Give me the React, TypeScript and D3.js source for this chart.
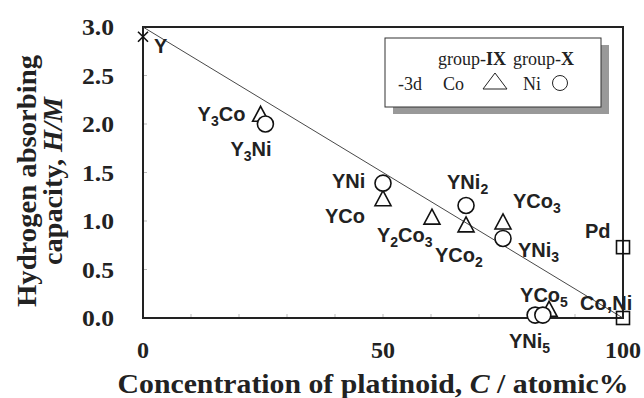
import React from "react";
import * as d3 from "d3";

// ---- data ----
const coNames = ["Y3Co", "YCo", "Y2Co3", "YCo2", "YCo3", "YCo5"];
const coX = [24.5, 50, 60.2, 67.3, 75, 84.6];
const coY = [2.1, 1.23, 1.04, 0.96, 0.99, 0.09];

const niNames = ["Y3Ni", "YNi", "YNi2", "YNi3", "YNi5", "YNi5b"];
const niX = [25.5, 50, 67.3, 75, 81.7, 83.3];
const niY = [2.0, 1.39, 1.16, 0.82, 0.03, 0.03];

const sqNames = ["Pd", "Co,Ni"];
const sqX = [100, 100];
const sqY = [0.73, 0.0];

const yElemX = [0];
const yElemY = [2.9];

const lineX = [0, 100];
const lineY = [3.0, 0.0];

const xTickLabels = [0, 50, 100];
const yTickLabels = [0, 0.5, 1.0, 1.5, 2.0, 2.5, 3.0];

// label annotations anchored to points, with pixel offsets
type Lab = { parts: { t: string; sub?: boolean }[]; x: number; y: number; dx: number; dy: number };
const labels: Lab[] = [
  { parts: [{ t: "Y" }], x: 0, y: 2.9, dx: 11, dy: 16 },
  { parts: [{ t: "Y" }, { t: "3", sub: true }, { t: "Co" }], x: 24.5, y: 2.1, dx: -63, dy: 7 },
  { parts: [{ t: "Y" }, { t: "3", sub: true }, { t: "Ni" }], x: 25.5, y: 2.0, dx: -35, dy: 32 },
  { parts: [{ t: "YNi" }], x: 50, y: 1.39, dx: -51, dy: 5 },
  { parts: [{ t: "YCo" }], x: 50, y: 1.23, dx: -58, dy: 24 },
  { parts: [{ t: "Y" }, { t: "2", sub: true }, { t: "Co" }, { t: "3", sub: true }], x: 60.2, y: 1.04, dx: -55, dy: 25 },
  { parts: [{ t: "YNi" }, { t: "2", sub: true }], x: 67.3, y: 1.16, dx: -19, dy: -16 },
  { parts: [{ t: "YCo" }, { t: "2", sub: true }], x: 67.3, y: 0.96, dx: -31, dy: 37 },
  { parts: [{ t: "YCo" }, { t: "3", sub: true }], x: 75, y: 0.99, dx: 10, dy: -14 },
  { parts: [{ t: "YNi" }, { t: "3", sub: true }], x: 75, y: 0.82, dx: 15, dy: 19 },
  { parts: [{ t: "YCo" }, { t: "5", sub: true }], x: 84.6, y: 0.09, dx: -29, dy: -7 },
  { parts: [{ t: "YNi" }, { t: "5", sub: true }], x: 82.5, y: 0.03, dx: -30, dy: 33 },
  { parts: [{ t: "Pd" }], x: 100, y: 0.73, dx: -38, dy: -9 },
  { parts: [{ t: "Co,Ni" }], x: 100, y: 0.0, dx: -43, dy: -8 },
];

const W = 644;
const H = 398;
const M = { left: 143, right: 21, top: 27, bottom: 80 };

const x = d3.scaleLinear().domain([0, 100]).range([M.left, W - M.right]);
const y = d3.scaleLinear().domain([0, 3.0]).range([H - M.bottom, M.top]);

const triPath = (cx: number, cy: number) => {
  const w = 8, hh = 7;
  return `M${cx},${cy - hh - 1}L${cx + w},${cy + hh}L${cx - w},${cy + hh}Z`;
};

export default function App() {
  const line = d3
    .line<number>()
    .x((_, i) => x(lineX[i]))
    .y((_, i) => y(lineY[i]));
  const serif = "'Liberation Serif', 'Times New Roman', serif";
  const sans = "'Liberation Sans', Arial, sans-serif";
  const xMinor = d3.range(0, 101, 10);
  const yMinor = d3.range(0, 3.01, 0.5);
  return (
    <svg width={W} height={H} style={{ position: "absolute", left: 0, top: 0, background: "#fff" }}>
      {/* minor ticks */}
      {xMinor.map((t) => (
        <line key={"xt" + t} x1={x(t)} x2={x(t)} y1={y(0)} y2={y(0) - 4} stroke="#bbb" strokeWidth={1} />
      ))}
      {yMinor.map((t) => (
        <line key={"yt" + t} x1={x(0)} x2={x(0) + 4} y1={y(t)} y2={y(t)} stroke="#bbb" strokeWidth={1} />
      ))}
      {/* frame */}
      <rect x={x(0)} y={y(3)} width={x(100) - x(0)} height={y(0) - y(3)} fill="none" stroke="#222" strokeWidth={2} />
      {/* trend line */}
      <path d={line(lineX) || ""} fill="none" stroke="#333" strokeWidth={0.9} />
      {/* tick labels */}
      {yTickLabels.map((t) => (
        <text key={"yl" + t} x={114} y={y(t) + 8} textAnchor="end" fontFamily={serif} fontWeight="bold" fontSize={24} textLength={32} lengthAdjust="spacingAndGlyphs" fill="#222">
          {t.toFixed(1)}
        </text>
      ))}
      {xTickLabels.map((t) => (
        <text key={"xl" + t} x={x(t)} y={358} textAnchor="middle" fontFamily={serif} fontWeight="bold" fontSize={24} fill="#222">
          {t}
        </text>
      ))}
      {/* axis titles */}
      <text x={373} y={393} textAnchor="middle" fontFamily={serif} fontWeight="bold" fontSize={27} textLength={511} lengthAdjust="spacingAndGlyphs" fill="#222">
        Concentration of platinoid, <tspan fontStyle="italic">C</tspan> / atomic%
      </text>
      <g transform="translate(36,181) rotate(-90)">
        <text x={0} y={0} textAnchor="middle" fontFamily={serif} fontWeight="bold" fontSize={27} textLength={252} lengthAdjust="spacingAndGlyphs" fill="#222">
          Hydrogen absorbing
        </text>
        <text x={0} y={26} textAnchor="middle" fontFamily={serif} fontWeight="bold" fontSize={27} textLength={168} lengthAdjust="spacingAndGlyphs" fill="#222">
          capacity, <tspan fontStyle="italic">H/M</tspan>
        </text>
      </g>
      {/* markers */}
      {coX.map((v, i) => (
        <path key={"co" + i} d={triPath(x(v), y(coY[i]))} fill="none" stroke="#111" strokeWidth={1.6} />
      ))}
      {niX.map((v, i) => (
        <circle key={"ni" + i} cx={x(v)} cy={y(niY[i])} r={8} fill="#fff" stroke="#111" strokeWidth={1.6} />
      ))}
      {sqX.map((v, i) => (
        <rect key={"sq" + i} x={x(v) - 6.5} y={y(sqY[i]) - 6.5} width={13} height={13} fill="none" stroke="#111" strokeWidth={1.6} />
      ))}
      {yElemX.map((v, i) => (
        <path
          key={"y" + i}
          d={`M${x(v) - 5},${y(yElemY[i]) - 5}L${x(v) + 5},${y(yElemY[i]) + 5}M${x(v) - 5},${y(yElemY[i]) + 5}L${x(v) + 5},${y(yElemY[i]) - 5}`}
          stroke="#111"
          strokeWidth={1.6}
        />
      ))}
      {/* point labels */}
      {labels.map((l, i) => (
        <text key={"lab" + i} x={x(l.x) + l.dx} y={y(l.y) + l.dy} fontFamily={sans} fontWeight="bold" fontSize={20} fill="#222">
          {l.parts.map((p, j) =>
            p.sub ? (
              <tspan key={j} fontSize={14} dy={5}>
                {p.t}
              </tspan>
            ) : (
              <tspan key={j} dy={j > 0 && l.parts[j - 1].sub ? -5 : 0}>
                {p.t}
              </tspan>
            )
          )}
        </text>
      ))}
      {/* legend */}
      <rect x={393} y={45} width={216} height={69} fill="#999" />
      <rect x={385} y={38} width={216} height={69} fill="#fff" stroke="#333" strokeWidth={1} />
      <g fontFamily={serif} fontSize={18} fill="#222">
        <text x={438} y={65}>
          group-<tspan fontWeight="bold">IX</tspan>
        </text>
        <text x={513} y={65}>
          group-<tspan fontWeight="bold">X</tspan>
        </text>
        <text x={398} y={90}>-3d</text>
        <text x={443} y={90}>Co</text>
        <text x={523} y={90}>Ni</text>
      </g>
      <path d="M495,73L507,89L483,89Z" fill="none" stroke="#222" strokeWidth={1} />
      <circle cx={560} cy={83} r={7.5} fill="none" stroke="#222" strokeWidth={1} />
    </svg>
  );
}
